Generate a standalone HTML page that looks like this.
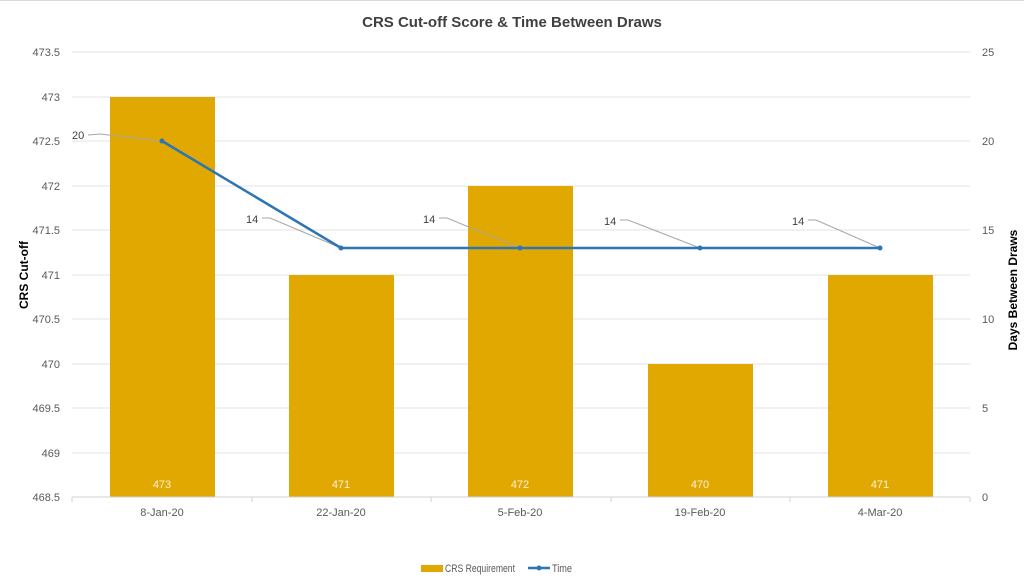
<!DOCTYPE html>
<html><head><meta charset="utf-8"><style>
body{margin:0;background:#fff;}
svg{display:block;font-family:"Liberation Sans",sans-serif;}
</style></head><body>
<svg width="1024" height="587" viewBox="0 0 1024 587">
<line x1="0" y1="0.5" x2="1024" y2="0.5" stroke="#d9d9d9"/>
<text x="512" y="27" text-anchor="middle" font-size="15" font-weight="bold" fill="#404040">CRS Cut-off Score &amp; Time Between Draws</text>
<g stroke="#e3e3e3" stroke-width="1">
<line x1="72" y1="52" x2="970" y2="52"/><line x1="72" y1="97" x2="970" y2="97"/>
<line x1="72" y1="141" x2="970" y2="141"/><line x1="72" y1="186" x2="970" y2="186"/>
<line x1="72" y1="230" x2="970" y2="230"/><line x1="72" y1="275" x2="970" y2="275"/>
<line x1="72" y1="319" x2="970" y2="319"/><line x1="72" y1="364" x2="970" y2="364"/>
<line x1="72" y1="408" x2="970" y2="408"/><line x1="72" y1="453" x2="970" y2="453"/>
</g>
<g font-size="11" fill="#595959" text-anchor="end">
<text x="60" y="56">473.5</text><text x="60" y="101">473</text><text x="60" y="145">472.5</text>
<text x="60" y="190">472</text><text x="60" y="234">471.5</text><text x="60" y="279">471</text>
<text x="60" y="323">470.5</text><text x="60" y="368">470</text><text x="60" y="412">469.5</text>
<text x="60" y="457">469</text><text x="60" y="501">468.5</text>
</g>
<g font-size="11" fill="#595959">
<text x="982" y="56">25</text><text x="982" y="145">20</text><text x="982" y="234">15</text>
<text x="982" y="323">10</text><text x="982" y="412">5</text><text x="982" y="501">0</text>
</g>
<text transform="translate(28,275) rotate(-90)" text-anchor="middle" font-size="12" font-weight="bold" fill="#000">CRS Cut-off</text>
<text transform="translate(1017,290) rotate(-90)" text-anchor="middle" font-size="12" font-weight="bold" fill="#000">Days Between Draws</text>
<g fill="#E0A800">
<rect x="110" y="97" width="105" height="400"/>
<rect x="289" y="275" width="105" height="222"/>
<rect x="468" y="186" width="105" height="311"/>
<rect x="648" y="364" width="105" height="133"/>
<rect x="828" y="275" width="105" height="222"/>
</g>
<g font-size="11" fill="#fff" text-anchor="middle" opacity="0.85">
<text x="162" y="488">473</text><text x="341" y="488">471</text><text x="520" y="488">472</text>
<text x="700" y="488">470</text><text x="880" y="488">471</text>
</g>
<line x1="72" y1="497" x2="970" y2="497" stroke="#d0d0d0"/>
<g stroke="#d0d0d0"><line x1="72" y1="497" x2="72" y2="502"/><line x1="252" y1="497" x2="252" y2="502"/><line x1="431" y1="497" x2="431" y2="502"/><line x1="611" y1="497" x2="611" y2="502"/><line x1="790" y1="497" x2="790" y2="502"/><line x1="970" y1="497" x2="970" y2="502"/></g>
<g font-size="11" fill="#595959" text-anchor="middle">
<text x="162" y="516">8-Jan-20</text><text x="341" y="516">22-Jan-20</text><text x="520" y="516">5-Feb-20</text>
<text x="700" y="516">19-Feb-20</text><text x="880" y="516">4-Mar-20</text>
</g>
<g stroke="#a6a6a6" fill="none" stroke-width="1">
<polyline points="88,135 100,134 160,141"/>
<polyline points="262,218 270,218 341,248"/>
<polyline points="439,218 447,218 520,248"/>
<polyline points="620,220 628,220 700,248"/>
<polyline points="808,220 816,220 880,248"/>
</g>
<g font-size="11" fill="#404040">
<text x="72" y="139">20</text><text x="246" y="223">14</text><text x="423" y="223">14</text>
<text x="604" y="225">14</text><text x="792" y="225">14</text>
</g>
<polyline points="162,141 341,248 520,248 700,248 880,248" fill="none" stroke="#2E75B6" stroke-width="2.5"/>
<g fill="#2E75B6"><circle cx="162" cy="141" r="2.5"/><circle cx="341" cy="248" r="2.5"/><circle cx="520" cy="248" r="2.5"/><circle cx="700" cy="248" r="2.5"/><circle cx="880" cy="248" r="2.5"/></g>
<rect x="421" y="565" width="22" height="7" fill="#E0A800"/>
<text x="445" y="572" font-size="11" fill="#595959" textLength="70" lengthAdjust="spacingAndGlyphs">CRS Requirement</text>
<line x1="528" y1="568" x2="550" y2="568" stroke="#2E75B6" stroke-width="2.5"/>
<circle cx="539" cy="568" r="2.5" fill="#2E75B6"/>
<text x="552" y="572" font-size="11" fill="#595959" textLength="20" lengthAdjust="spacingAndGlyphs">Time</text>
</svg>
</body></html>
